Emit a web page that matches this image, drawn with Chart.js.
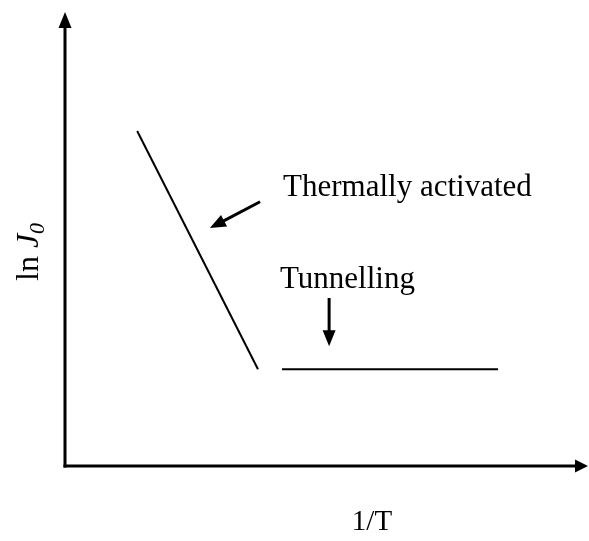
<!DOCTYPE html>
<html>
<head>
<meta charset="utf-8">
<script src="https://cdn.jsdelivr.net/npm/chart.js@4/dist/chart.umd.min.js"></script>
<style>
  html, body { margin: 0; padding: 0; background: #fff; }
  #wrap { width: 589px; height: 541px; }
</style>
</head>
<body>
<div id="wrap"><canvas id="lnJChart" width="589" height="541"></canvas></div>
<script>
// schematic values in axis units (both axes run 0..10)
const thermalX = [1.38, 3.69];
const thermalY = [7.38, 2.13];
const tunnelX = [4.15, 8.28];
const tunnelY = [2.13, 2.13];

// annotation labels and their pointer arrows (axis units)
const noteText = ['Thermally activated', 'Tunnelling'];
const noteAt = [[4.17, 5.95], [4.11, 3.92]];
const arrowFrom = [[3.73, 5.82], [5.05, 3.70]];
const arrowTo = [[2.77, 5.24], [5.05, 2.64]];

const xTitle = '1/T';
const serif = "'Liberation Serif', 'Times New Roman', serif";

function arrowHead(ctx, x0, y0, x1, y1, len, half) {
    const a = Math.atan2(y1 - y0, x1 - x0);
    ctx.beginPath();
    ctx.moveTo(x1, y1);
    ctx.lineTo(x1 - len * Math.cos(a) + half * Math.sin(a), y1 - len * Math.sin(a) - half * Math.cos(a));
    ctx.lineTo(x1 - len * Math.cos(a) - half * Math.sin(a), y1 - len * Math.sin(a) + half * Math.cos(a));
    ctx.closePath();
    ctx.fill();
}

function arrow(ctx, x0, y0, x1, y1, width, len, half) {
    const a = Math.atan2(y1 - y0, x1 - x0);
    ctx.lineWidth = width;
    ctx.beginPath();
    ctx.moveTo(x0, y0);
    ctx.lineTo(x1 - (len - 2) * Math.cos(a), y1 - (len - 2) * Math.sin(a));
    ctx.stroke();
    arrowHead(ctx, x0, y0, x1, y1, len, half);
}

// axes with arrowheads, annotations and axis titles
const sketchPlugin = {
    id: 'sketch',
    afterDatasetsDraw(chart) {
        const ctx = chart.ctx;
        const xs = chart.scales.x, ys = chart.scales.y;
        const left = xs.getPixelForValue(0);
        const bottom = ys.getPixelForValue(0);
        ctx.save();
        ctx.strokeStyle = '#000';
        ctx.fillStyle = '#000';
        ctx.lineCap = 'butt';

        // y axis
        arrow(ctx, left, bottom + 1.5, left, chart.chartArea.top, 3, 16, 6.5);
        // x axis
        arrow(ctx, left - 1.5, bottom, chart.chartArea.right, bottom, 3, 13, 6.5);

        // pointer arrows
        for (let i = 0; i < arrowFrom.length; i++) {
            arrow(ctx,
                xs.getPixelForValue(arrowFrom[i][0]), ys.getPixelForValue(arrowFrom[i][1]),
                xs.getPixelForValue(arrowTo[i][0]), ys.getPixelForValue(arrowTo[i][1]),
                3, 16, 6.5);
        }

        // labels
        ctx.font = '31px ' + serif;
        ctx.textBaseline = 'alphabetic';
        ctx.textAlign = 'left';
        for (let i = 0; i < noteText.length; i++) {
            ctx.fillText(noteText[i], xs.getPixelForValue(noteAt[i][0]), ys.getPixelForValue(noteAt[i][1]));
        }

        // x title
        ctx.font = '29px ' + serif;
        ctx.textAlign = 'center';
        ctx.fillText(xTitle, 372, 530);

        // y title: ln J0, rotated
        ctx.translate(38, 281);
        ctx.rotate(-Math.PI / 2);
        ctx.textAlign = 'left';
        ctx.font = '32px ' + serif;
        ctx.fillText('ln ', 0, 0);
        let w = ctx.measureText('ln ').width;
        ctx.font = 'italic 32px ' + serif;
        ctx.fillText('J', w, 0);
        w += ctx.measureText('J').width;
        ctx.font = 'italic 22px ' + serif;
        ctx.fillText('0', w, 6);
        ctx.restore();
    }
};

const lineStyle = {
    borderColor: '#000',
    borderWidth: 2,
    pointRadius: 0,
    showLine: true,
    fill: false,
    tension: 0
};

new Chart(document.getElementById('lnJChart'), {
    type: 'scatter',
    data: {
        datasets: [
            Object.assign({ label: 'Thermally activated', data: thermalX.map((x, i) => ({ x: x, y: thermalY[i] })) }, lineStyle),
            Object.assign({ label: 'Tunnelling', data: tunnelX.map((x, i) => ({ x: x, y: tunnelY[i] })) }, lineStyle)
        ]
    },
    options: {
        responsive: false,
        animation: false,
        layout: { padding: { left: 65, top: 12, right: 1, bottom: 75 } },
        plugins: { legend: { display: false }, tooltip: { enabled: false } },
        scales: {
            x: { type: 'linear', min: 0, max: 10, display: false },
            y: { type: 'linear', min: 0, max: 10, display: false }
        }
    },
    plugins: [sketchPlugin]
});
</script>
</body>
</html>
